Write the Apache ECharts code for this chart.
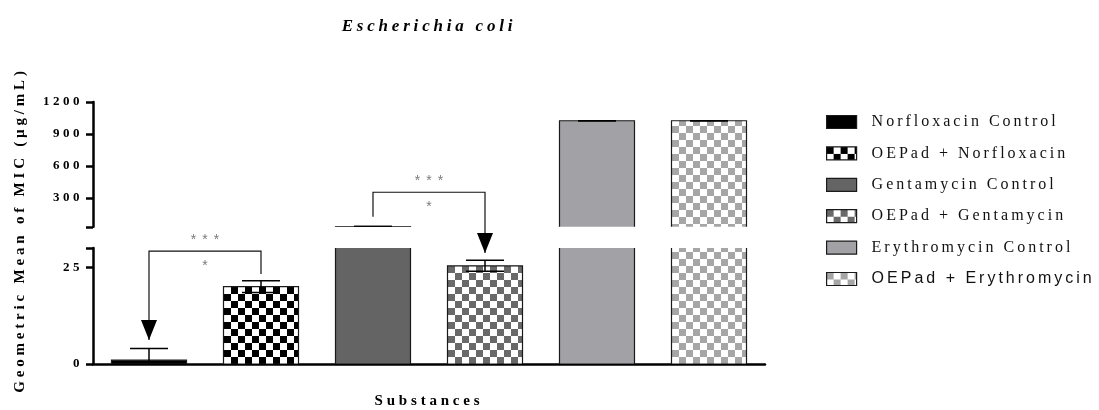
<!DOCTYPE html>
<html>
<head>
<meta charset="utf-8">
<script src="https://cdn.jsdelivr.net/npm/echarts@6/dist/echarts.min.js"></script>
<style>
  html, body { margin: 0; padding: 0; background: #fff; }
  #chart { width: 1099px; height: 410px; }
</style>
</head>
<body>
<div id="chart"></div>
<script>
// Substances tested against Escherichia coli, geometric mean MIC (µg/mL)
const substances = [
  'Norfloxacin Control',
  'OEPad + Norfloxacin',
  'Gentamycin Control',
  'OEPad + Gentamycin',
  'Erythromycin Control',
  'OEPad + Erythromycin'
];
const micMean = [1, 20, 32, 25.4, 1024, 1024];
const micError = [3, 1.5, 0, 1.4, 0, 0];

// Broken value axis: lower and upper segments
const lowerRange = [0, 30];
const upperRange = [30, 1200];
const lowerTicks = [0, 25, 30];
const lowerTickLabels = [0, 25];
const upperTicks = [30, 300, 600, 900, 1200];
const upperTickLabels = [300, 600, 900, 1200];

// Significance brackets: [category, value, segment] for each end of the bracket
const bracketFrom = [[0, 6.2, 'lower'], [2, 125, 'upper']];
const bracketTop = [[29.2, 'lower'], [354, 'upper']];
const bracketTo = [[1, 23.3, 'lower'], [3, 28.7, 'lower']];
const bracketArrowEnd = ['from', 'to'];
const markAbove = ['***', '***'];
const markBelow = ['*', '*'];

// Wide tracking on the figure's text, keyed by font size
const trackingBySize = { 14: 6, 13: 3.5, 15: 3.8, 16: 3, 17: 3.8 };
const nativeFillText = CanvasRenderingContext2D.prototype.fillText;
CanvasRenderingContext2D.prototype.fillText = function (text, x, y, maxWidth) {
  const m = /(\d+(?:\.\d+)?)px/.exec(this.font);
  const sp = m ? (trackingBySize[Math.round(parseFloat(m[1]))] || 0) : 0;
  if ('letterSpacing' in this) this.letterSpacing = sp + 'px';
  return maxWidth === undefined
    ? nativeFillText.call(this, text, x, y)
    : nativeFillText.call(this, text, x, y, maxWidth);
};

function checker(fg, bg, cell) {
  const c = document.createElement('canvas');
  c.width = c.height = cell * 2;
  const g = c.getContext('2d');
  g.fillStyle = bg; g.fillRect(0, 0, cell * 2, cell * 2);
  g.fillStyle = fg;
  g.fillRect(0, 0, cell, cell);
  g.fillRect(cell, cell, cell, cell);
  return { image: c, repeat: 'repeat' };
}

const fills = [
  '#000000',
  checker('#000000', '#ffffff', 7),
  '#646464',
  checker('#696969', '#ffffff', 7),
  '#a2a2a6',
  checker('#a6a6a6', '#ffffff', 7)
];

const SERIF = '"Liberation Serif", "Times New Roman", serif';
const SANS = '"Liberation Sans", Arial, sans-serif';
const axisLineStyle = { color: '#000', width: 2.5 };
const outline = { stroke: '#1a1a1a', lineWidth: 1.2 };

const gridLeft = 93, gridWidth = 672;
const barWidth = 75;
const segmentMin = [upperRange[0], lowerRange[0]];

function valueAxis(gridIndex, range, ticks, labels) {
  return {
    gridIndex, type: 'value', min: range[0], max: range[1],
    axisLine: { show: true, lineStyle: axisLineStyle },
    axisTick: { show: true, length: 7, customValues: ticks, lineStyle: axisLineStyle },
    axisLabel: {
      customValues: labels, margin: 10, color: '#000',
      fontFamily: SERIF, fontWeight: 'bold', fontSize: 13,
      formatter: v => String(v)
    },
    splitLine: { show: false }
  };
}

const series = [];
[0, 1].forEach(g => {
  const floor = segmentMin[g];
  // bar fills
  substances.forEach((name, i) => {
    series.push({
      type: 'bar', name, xAxisIndex: g, yAxisIndex: g,
      data: substances.map((_, j) => (j === i ? micMean[i] : '-')),
      barWidth, barGap: '-100%', clip: true,
      itemStyle: { color: fills[i], borderWidth: 0 },
      emphasis: { disabled: true }, silent: true
    });
  });
  // bar outlines, clipped by the segment so broken ends stay open
  series.push({
    type: 'custom', xAxisIndex: g, yAxisIndex: g, clip: true, z: 3, silent: true,
    data: micMean.map((v, i) => [i, v]),
    renderItem(params, api) {
      const c = api.value(0), v = api.value(1);
      if (v <= floor) return null;
      const top = api.coord([c, v]);
      const base = api.coord([c, 0]);
      return {
        type: 'rect',
        shape: { x: top[0] - barWidth / 2, y: top[1], width: barWidth, height: base[1] - top[1] },
        style: Object.assign({ fill: null }, outline)
      };
    }
  });
  // error bars
  series.push({
    type: 'custom', xAxisIndex: g, yAxisIndex: g, clip: true, z: 5, silent: true,
    data: micMean.map((v, i) => [i, v, micError[i]]),
    renderItem(params, api) {
      const c = api.value(0), v = api.value(1), e = api.value(2);
      if (v + e <= floor) return null;
      const hi = api.coord([c, v + e]);
      const lo = api.coord([c, Math.max(v - e, 0)]);
      const half = 19;
      const style = { stroke: '#000', lineWidth: 1.5 };
      const kids = [
        { type: 'line', shape: { x1: hi[0], y1: hi[1], x2: lo[0], y2: lo[1] }, style },
        { type: 'line', shape: { x1: hi[0] - half, y1: hi[1], x2: hi[0] + half, y2: hi[1] }, style }
      ];
      if (v - e > 0) {
        kids.push({ type: 'line', shape: { x1: lo[0] - half, y1: lo[1], x2: lo[0] + half, y2: lo[1] }, style });
      }
      return { type: 'group', children: kids };
    }
  });
});

const chart = echarts.init(document.getElementById('chart'), null, { renderer: 'canvas' });
chart.setOption({
  animation: false,
  backgroundColor: '#fff',
  grid: [
    { left: gridLeft, width: gridWidth, top: 102, height: 124.8 },
    { left: gridLeft, width: gridWidth, top: 248, height: 126 }
  ],
  xAxis: [
    { gridIndex: 0, type: 'category', data: substances, show: false },
    {
      gridIndex: 1, type: 'category', data: substances,
      axisLine: { lineStyle: axisLineStyle },
      axisTick: { alignWithLabel: true, length: 7, lineStyle: axisLineStyle },
      axisLabel: { show: false },
      name: 'Substances', nameLocation: 'middle', nameGap: 30,
      nameTextStyle: { fontFamily: SERIF, fontWeight: 'bold', fontSize: 15, color: '#000' }
    }
  ],
  yAxis: [
    valueAxis(0, upperRange, upperTicks, upperTickLabels),
    valueAxis(1, lowerRange, lowerTicks, lowerTickLabels)
  ],
  legend: {
    orient: 'vertical', left: 826, top: 114, padding: 0,
    itemWidth: 30, itemHeight: 13, itemGap: 15.4, icon: 'rect',
    selectedMode: false,
    itemStyle: { borderColor: '#1a1a1a', borderWidth: 1.2 },
    data: substances.map((n, i) => ({
      name: n, textStyle: { fontFamily: i === 5 ? SANS : SERIF }
    })),
    textStyle: { fontSize: 16, color: '#111', padding: [0, 0, 0, 10] }
  },
  series
});

// Title, y-axis name and significance brackets placed through the grid scales
const upperTop = chart.convertToPixel({ gridIndex: 0 }, [0, upperRange[1]])[1];
const lowerBottom = chart.convertToPixel({ gridIndex: 1 }, [0, lowerRange[0]])[1];
const plotMidX = gridLeft + gridWidth / 2;

function px(cat, value, seg) {
  return chart.convertToPixel({ gridIndex: seg === 'upper' ? 0 : 1 }, [cat, value]);
}

const graphics = [
  {
    type: 'text', x: plotMidX, y: 27, silent: true,
    style: {
      text: 'Escherichia coli', textAlign: 'center', textVerticalAlign: 'middle',
      font: 'italic bold 17px ' + SERIF, fill: '#000'
    }
  },
  {
    type: 'text', x: 20, y: (upperTop + lowerBottom) / 2 - 3, rotation: Math.PI / 2, silent: true,
    style: {
      text: 'Geometric Mean of MIC (µg/mL)', textAlign: 'center', textVerticalAlign: 'middle',
      font: 'bold 15px ' + SERIF, fill: '#000'
    }
  }
];

bracketFrom.forEach((f, k) => {
  const t = bracketTo[k];
  const p1 = px(f[0], f[1], f[2]);
  const pTop1 = px(f[0], bracketTop[k][0], bracketTop[k][1]);
  const pTop2 = px(t[0], bracketTop[k][0], bracketTop[k][1]);
  const p2 = px(t[0], t[1], t[2]);
  graphics.push({
    type: 'polyline', silent: true, z: 10,
    shape: { points: [p1, pTop1, pTop2, p2] },
    style: { stroke: '#111', lineWidth: 1.2, fill: null }
  });
  const tip = bracketArrowEnd[k] === 'from' ? p1 : p2;
  graphics.push({
    type: 'polygon', silent: true, z: 11,
    shape: { points: [[tip[0] - 8, tip[1] - 20], [tip[0] + 8, tip[1] - 20], tip] },
    style: { fill: '#000' }
  });
  const mx = (pTop1[0] + pTop2[0]) / 2 + 3;
  graphics.push({
    type: 'text', x: mx, y: pTop1[1] - 11, silent: true, z: 11,
    style: { text: markAbove[k], textAlign: 'center', textVerticalAlign: 'middle', font: '14px ' + SANS, fill: '#7a7a7a' }
  });
  graphics.push({
    type: 'text', x: mx, y: pTop1[1] + 15, silent: true, z: 11,
    style: { text: markBelow[k], textAlign: 'center', textVerticalAlign: 'middle', font: '14px ' + SANS, fill: '#7a7a7a' }
  });
});

chart.setOption({ graphic: graphics });
</script>
</body>
</html>
